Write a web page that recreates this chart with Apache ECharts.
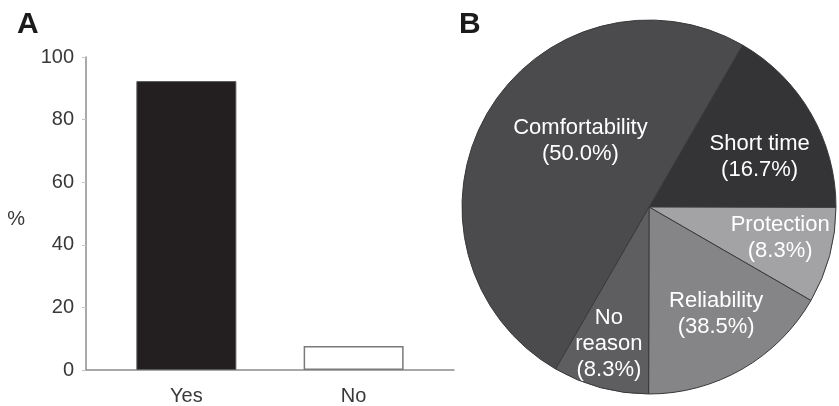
<!DOCTYPE html>
<html>
<head>
<meta charset="utf-8">
<script src="https://cdn.jsdelivr.net/npm/echarts@6/dist/echarts.min.js"></script>
<style>
html,body{margin:0;padding:0;background:#fff;}
#chart{width:839px;height:406px;}
</style>
</head>
<body>
<div id="chart"></div>
<script>
// ---- Data ----
var barCategories = ['Yes', 'No'];
var barValues = [92.3, 7.7];
var yTicks = [0, 20, 40, 60, 80, 100];

var pieNames = ['Short time', 'Protection', 'Reliability', 'No reason', 'Comfortability'];
var pieLabelNames = ['Short time', 'Protection', 'Reliability', 'No\nreason', 'Comfortability'];
var pieLabelPercents = ['16.7', '8.3', '38.5', '8.3', '50.0'];
var pieValues = [16.7, 8.3, 16.7, 8.3, 50.0];

// ---- Styling ----
var FONT = '"Liberation Sans", Arial, Helvetica, sans-serif';
var pieColors = ['#343335', '#a3a3a5', '#858587', '#5e5e61', '#4b4b4e'];
var pieLabelOffsets = [[27, -2], [38, 6], [19, 23], [-15, 44], [15, -18]];

var chart = echarts.init(document.getElementById('chart'), null, {renderer: 'canvas'});

var option = {
  animation: false,
  backgroundColor: '#ffffff',
  title: [
    {text: 'A', left: 12, top: 5, textStyle: {fontFamily: FONT, fontSize: 30, fontWeight: 'bold', color: '#1b1b1b'}},
    {text: 'B', left: 454, top: 5, textStyle: {fontFamily: FONT, fontSize: 30, fontWeight: 'bold', color: '#1b1b1b'}}
  ],
  grid: {left: 86, top: 57, width: 368, height: 314, containLabel: false},
  xAxis: {
    type: 'value',
    min: -0.6,
    max: 1.6,
    splitLine: {show: false},
    axisTick: {show: false},
    axisLine: {show: true, onZero: false, lineStyle: {color: '#8c8c8e', width: 1.5}},
    axisLabel: {
      customValues: [0, 1],
      formatter: function (v) { return barCategories[Math.round(v)]; },
      fontFamily: FONT, fontSize: 20, color: '#383838', margin: 16
    }
  },
  yAxis: {
    type: 'value',
    min: 0,
    max: 100,
    interval: 20,
    name: '%',
    nameLocation: 'middle',
    nameRotate: 0,
    nameGap: 61,
    nameTextStyle: {fontFamily: FONT, fontSize: 20, color: '#383838', verticalAlign: 'top', lineHeight: 12},
    splitLine: {show: false},
    axisLine: {show: true, onZero: false, lineStyle: {color: '#8c8c8e', width: 1.5}},
    axisTick: {show: true, inside: false, length: 4, lineStyle: {color: '#c4c4c4', width: 1}},
    axisLabel: {
      fontFamily: FONT, fontSize: 20, color: '#383838', margin: 12,
      formatter: function (v) { return yTicks.indexOf(v) >= 0 ? String(v) : ''; }
    }
  },
  series: [
    {
      type: 'bar',
      barWidth: 100,
      data: barValues.map(function (v, i) {
        return {
          value: [i, v],
          itemStyle: i === 0
            ? {color: '#231f20', borderColor: '#5a5a5a', borderWidth: 1}
            : {color: '#ffffff', borderColor: '#7a7a7c', borderWidth: 1.5}
        };
      })
    },
    {
      type: 'pie',
      center: [649, 207],
      radius: [0, 187],
      startAngle: 60,
      clockwise: true,
      avoidLabelOverlap: false,
      labelLine: {show: false},
      itemStyle: {borderColor: '#3a3a3c', borderWidth: 1},
      emphasis: {disabled: true},
      label: {
        show: true,
        position: 'inside',
        color: '#ffffff',
        fontFamily: FONT,
        fontSize: 22,
        lineHeight: 26,
        align: 'center'
      },
      data: pieNames.map(function (n, i) {
        return {
          name: n,
          value: pieValues[i],
          itemStyle: {color: pieColors[i]},
          label: {
            formatter: pieLabelNames[i] + '\n(' + pieLabelPercents[i] + '%)',
            offset: pieLabelOffsets[i]
          }
        };
      })
    }
  ]
};

chart.setOption(option);
</script>
</body>
</html>
